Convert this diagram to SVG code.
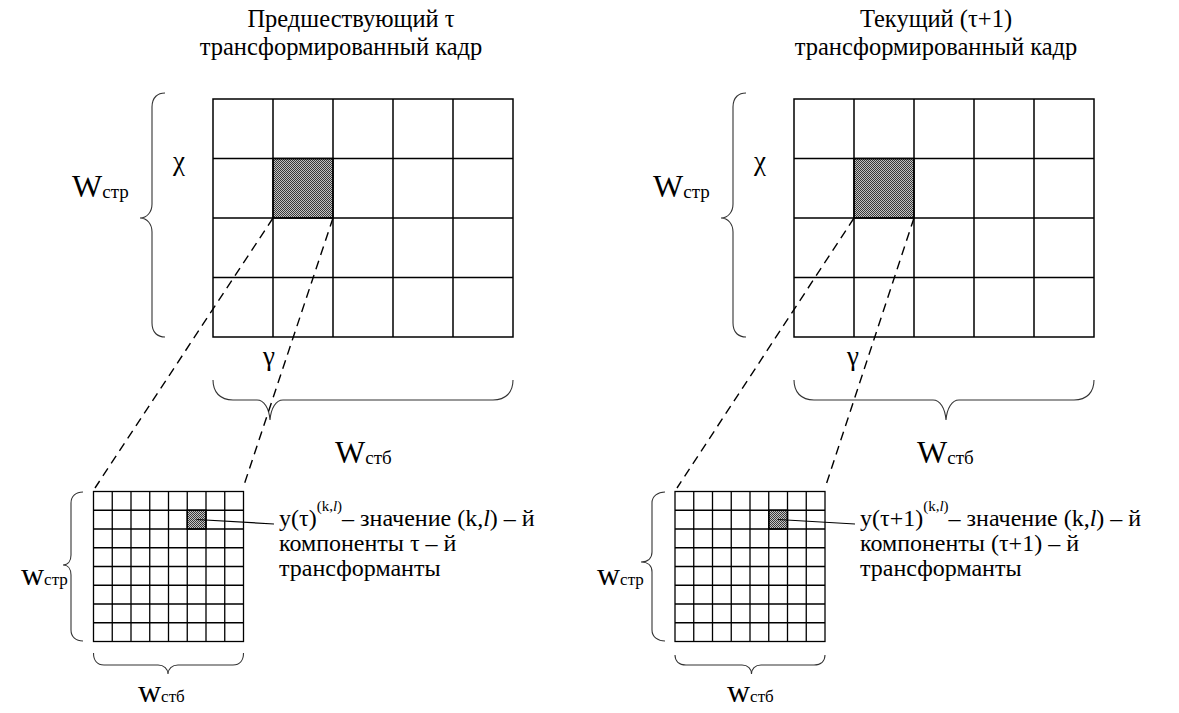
<svg xmlns="http://www.w3.org/2000/svg" width="1179" height="713" viewBox="0 0 1179 713">
<defs>
<pattern id="dots" width="2" height="2" patternUnits="userSpaceOnUse">
<rect width="2" height="2" fill="#c4c4c4"/>
<rect width="1" height="1" fill="#3a3a3a"/>
<rect x="1" y="1" width="1" height="1" fill="#3a3a3a"/>
</pattern>
</defs>
<style>
.title{font-size:24.5px;text-anchor:middle}
.call{font-size:24px}
.sup{font-size:15px}
.big{font-size:32px}
.sub{font-size:19px}
.ssub{font-size:17px}
.greek{font-size:27px}
.grid{fill:none;stroke:#000;stroke-width:1.5}
.fine{fill:none;stroke:#000;stroke-width:1.3}
.brace{fill:none;stroke:#333;stroke-width:1.1}
.dash{fill:none;stroke:#000;stroke-width:1.4;stroke-dasharray:9 6}
.lead{fill:none;stroke:#000;stroke-width:1.2}
.shade{fill:url(#dots);stroke:#000;stroke-width:1.5}
</style>
<rect width="1179" height="713" fill="#fff"/>
<g font-family="Liberation Serif, DejaVu Serif, serif" fill="#000">

<!-- Titles -->
<g id="title-left">
<text class="title" x="351" y="27">Предшествующий τ</text>
<text class="title" x="341" y="55">трансформированный кадр</text>
</g>
<g id="title-right">
<text class="title" x="936" y="27">Текущий (τ+1)</text>
<text class="title" x="936" y="55">трансформированный кадр</text>
</g>

<!-- Left big frame -->
<g id="frame-left">
<rect class="shade" x="273" y="158.5" width="60" height="59.5"/>
<rect class="grid" x="213" y="99" width="300" height="238"/>
<path class="grid" d="M273,99V337M333,99V337M393,99V337M453,99V337M213,158.5H513M213,218H513M213,277.5H513"/>
</g>
<g id="brace-left-v">
<path class="brace" d="M165,93C158,93 152,97 152,107L152,204C152,212 147,218 140,218C147,218 152,224 152,232L152,323C152,333 158,337 165,337"/>
<text class="big" x="72" y="197">W<tspan class="sub" dy="1">стр</tspan></text>
</g>
<g id="chi-left"><text class="greek" x="173" y="170">χ</text></g>
<g id="brace-left-h">
<path class="brace" d="M213,380C213,392 220,400 233,400L257,400C264,400 269,408 270,420C271,408 276,400 283,400L493,400C506,400 513,392 513,380"/>
<text class="big" x="335" y="463">W<tspan class="sub" dy="1">стб</tspan></text>
</g>
<g id="gamma-left"><text class="greek" x="263" y="365">γ</text></g>

<!-- Left small block -->
<g id="block-left">
<rect class="shade" x="187.25" y="510.25" width="18.75" height="18.75"/>
<rect class="fine" x="93.5" y="491.5" width="150" height="150"/>
<path class="fine" d="M112.25,491.5V641.5M131,491.5V641.5M149.75,491.5V641.5M168.5,491.5V641.5M187.25,491.5V641.5M206,491.5V641.5M224.75,491.5V641.5M93.5,510.25H243.5M93.5,529H243.5M93.5,547.75H243.5M93.5,566.5H243.5M93.5,585.25H243.5M93.5,604H243.5M93.5,622.75H243.5"/>
</g>
<g id="brace-block-left-v">
<path class="brace" d="M83,492C76,492 71,496 71,503L71,555C71,561 68,565 63,565C68,565 71,569 71,575L71,630C71,637 76,641 83,641"/>
<text class="big" x="21" y="585">w<tspan class="ssub">стр</tspan></text>
</g>
<g id="brace-block-left-h">
<path class="brace" d="M93.5,653C93.5,660 97,665 104,665L158,665C164,665 168,669 168,674C168,669 172,665 178,665L233,665C240,665 243.5,660 243.5,653"/>
<text class="big" x="138" y="702">w<tspan class="ssub">стб</tspan></text>
</g>
<g id="label-left">
<text class="call" x="279" y="526">y(τ)<tspan class="sup" dy="-15">(k,<tspan font-style="italic">l</tspan>)</tspan><tspan dy="15">– значение (k,<tspan font-style="italic">l</tspan>) – й</tspan></text>
<text class="call" x="279" y="551">компоненты τ – й</text>
<text class="call" x="279" y="576">трансформанты</text>
</g>

<!-- Right big frame -->
<g id="frame-right">
<rect class="shade" x="854" y="158.5" width="60" height="59.5"/>
<rect class="grid" x="794" y="99" width="300" height="238"/>
<path class="grid" d="M854,99V337M914,99V337M974,99V337M1034,99V337M794,158.5H1094M794,218H1094M794,277.5H1094"/>
</g>
<g id="brace-right-v">
<path class="brace" d="M746,93C739,93 733,97 733,107L733,204C733,212 728,218 721,218C728,218 733,224 733,232L733,323C733,333 739,337 746,337"/>
<text class="big" x="653" y="197">W<tspan class="sub" dy="1">стр</tspan></text>
</g>
<g id="chi-right"><text class="greek" x="754" y="170">χ</text></g>
<g id="brace-right-h">
<path class="brace" d="M794,380C794,392 801,400 814,400L933,400C940,400 945,408 946,420C947,408 952,400 959,400L1074,400C1087,400 1094,392 1094,380"/>
<text class="big" x="917" y="463">W<tspan class="sub" dy="1">стб</tspan></text>
</g>
<g id="gamma-right"><text class="greek" x="847" y="365">γ</text></g>

<!-- Right small block -->
<g id="block-right">
<rect class="shade" x="768.75" y="510.25" width="18.75" height="18.75"/>
<rect class="fine" x="675" y="491.5" width="150" height="150"/>
<path class="fine" d="M693.75,491.5V641.5M712.5,491.5V641.5M731.25,491.5V641.5M750,491.5V641.5M768.75,491.5V641.5M787.5,491.5V641.5M806.25,491.5V641.5M675,510.25H825M675,529H825M675,547.75H825M675,566.5H825M675,585.25H825M675,604H825M675,622.75H825"/>
</g>
<g id="brace-block-right-v">
<path class="brace" d="M665,492C658,492 652,496 652,503L652,552C652,558 648,562 641,562C648,562 652,566 652,572L652,630C652,637 658,641 665,641"/>
<text class="big" x="597" y="585">w<tspan class="ssub">стр</tspan></text>
</g>
<g id="brace-block-right-h">
<path class="brace" d="M675,655C675,661 679,665 686,665L742,665C748,665 751.5,669 751.5,674C751.5,669 755,665 761,665L814,665C821,665 825,661 825,655"/>
<text class="big" x="727" y="702">w<tspan class="ssub">стб</tspan></text>
</g>
<g id="label-right">
<text class="call" x="860" y="526">y(τ+1)<tspan class="sup" dy="-15">(k,<tspan font-style="italic">l</tspan>)</tspan><tspan dy="15">– значение (k,<tspan font-style="italic">l</tspan>) – й</tspan></text>
<text class="call" x="860" y="551">компоненты (τ+1) – й</text>
<text class="call" x="860" y="576">трансформанты</text>
</g>

<!-- Connectors -->
<g id="connectors">
<line class="dash" x1="273" y1="218" x2="95" y2="488"/>
<line class="dash" x1="333" y1="218" x2="243" y2="488"/>
<line class="dash" x1="854" y1="218" x2="677" y2="488"/>
<line class="dash" x1="914" y1="218" x2="825" y2="488"/>
<line class="lead" x1="196.5" y1="519.5" x2="274" y2="524"/>
<line class="lead" x1="778" y1="519.5" x2="855" y2="524"/>
</g>
</g>
</svg>
